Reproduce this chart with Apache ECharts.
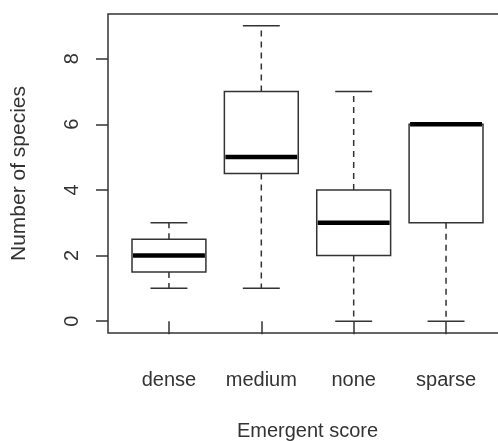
<!DOCTYPE html>
<html>
<head>
<meta charset="utf-8">
<script src="https://cdn.jsdelivr.net/npm/echarts@6/dist/echarts.min.js"></script>
<style>
html,body{margin:0;padding:0;background:#fff;}
#chart{width:498px;height:441px;}
</style>
</head>
<body>
<div id="chart"></div>
<script>
const categories = ['dense', 'medium', 'none', 'sparse'];
const whiskerLow = [1, 1, 0, 0];
const quartile1 = [1.5, 4.5, 2, 3];
const medians = [2, 5, 3, 6];
const quartile3 = [2.5, 7, 4, 6];
const whiskerHigh = [3, 9, 7, 6];
const yTicks = [0, 2, 4, 6, 8];
const xTicks = [1, 2, 3, 4];

const boxData = categories.map((c, i) => [i + 1, whiskerLow[i], quartile1[i], medians[i], quartile3[i], whiskerHigh[i]]);

const font = 'Liberation Sans, Arial, sans-serif';
const textColor = '#333';
const lineColor = '#333';

function renderItem(params, api) {
  const x = api.value(0);
  const lo = api.value(1), q1 = api.value(2), med = api.value(3), q3 = api.value(4), hi = api.value(5);
  const halfBox = 0.4, halfCap = 0.2;
  const pLo = api.coord([x, lo]);
  const pQ1 = api.coord([x, q1]);
  const pMed = api.coord([x, med]);
  const pQ3 = api.coord([x, q3]);
  const pHi = api.coord([x, hi]);
  const bl = api.coord([x - halfBox, q1])[0];
  const br = api.coord([x + halfBox, q1])[0];
  const cl = api.coord([x - halfCap, q1])[0];
  const cr = api.coord([x + halfCap, q1])[0];
  const solid = {stroke: lineColor, lineWidth: 1.5, fill: null};
  const dashed = {stroke: lineColor, lineWidth: 1.5, lineDash: [6, 5], fill: null};
  const children = [];
  if (hi > q3) {
    children.push({type: 'line', shape: {x1: pQ3[0], y1: pQ3[1], x2: pHi[0], y2: pHi[1]}, style: dashed});
  }
  if (lo < q1) {
    children.push({type: 'line', shape: {x1: pQ1[0], y1: pQ1[1], x2: pLo[0], y2: pLo[1]}, style: dashed});
  }
  children.push({type: 'line', shape: {x1: cl, y1: pHi[1], x2: cr, y2: pHi[1]}, style: solid});
  children.push({type: 'line', shape: {x1: cl, y1: pLo[1], x2: cr, y2: pLo[1]}, style: solid});
  children.push({type: 'rect', shape: {x: bl, y: pQ3[1], width: br - bl, height: pQ1[1] - pQ3[1]},
    style: {stroke: lineColor, lineWidth: 1.5, fill: '#fff'}});
  children.push({type: 'line', shape: {x1: bl + 1, y1: pMed[1], x2: br - 1, y2: pMed[1]},
    style: {stroke: '#000', lineWidth: 4.5}});
  return {type: 'group', children: children};
}

const chart = echarts.init(document.getElementById('chart'), null, {renderer: 'canvas'});
chart.setOption({
  backgroundColor: '#fff',
  animation: false,
  grid: {left: 108, top: 14, width: 399, height: 319, show: true, borderColor: lineColor, borderWidth: 1.5,
    backgroundColor: 'transparent', containLabel: false, outerBoundsMode: 'none'},
  xAxis: {
    type: 'value', min: 0.34, max: 4.66,
    name: 'Emergent score', nameLocation: 'middle', nameGap: 88,
    nameTextStyle: {fontFamily: font, fontSize: 20, color: textColor},
    axisLine: {show: false},
    splitLine: {show: false},
    axisTick: {show: true, inside: false, length: 13, customValues: xTicks, lineStyle: {color: lineColor, width: 1.5}},
    axisLabel: {customValues: xTicks, margin: 37, fontFamily: font, fontSize: 20, color: textColor,
      formatter: v => categories[Math.round(v) - 1] || ''}
  },
  yAxis: {
    type: 'value', min: -0.36, max: 9.36,
    name: 'Number of species', nameLocation: 'middle', nameGap: 78, nameRotate: 90,
    nameTextStyle: {fontFamily: font, fontSize: 21, color: textColor},
    axisLine: {show: false},
    splitLine: {show: false},
    axisTick: {show: true, inside: false, length: 12, customValues: yTicks, lineStyle: {color: lineColor, width: 1.5}},
    axisLabel: {customValues: yTicks, rotate: 90, margin: 26, fontFamily: font, fontSize: 20, color: textColor}
  },
  series: [{
    type: 'custom',
    renderItem: renderItem,
    encode: {x: 0, y: [1, 2, 3, 4, 5]},
    data: boxData,
    clip: false
  }]
});
</script>
</body>
</html>
